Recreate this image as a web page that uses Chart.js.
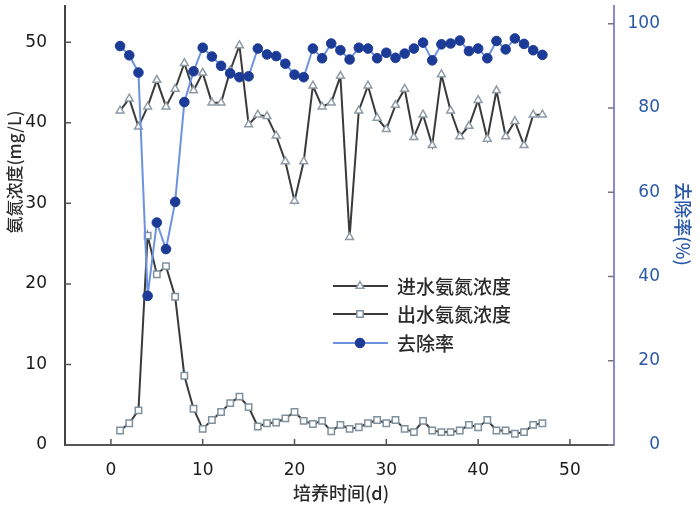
<!DOCTYPE html>
<html>
<head>
<meta charset="utf-8">
<script src="https://cdn.jsdelivr.net/npm/chart.js@4.4.1/dist/chart.umd.min.js"></script>
<style>
  html, body { margin: 0; padding: 0; background: #fff; }
</style>
</head>
<body>
<canvas id="ammonia" width="700" height="516"></canvas>
<script>
// culture time (d)
const days = [1, 2, 3, 4, 5, 6, 7, 8, 9, 10, 11, 12, 13, 14, 15, 16, 17, 18, 19, 20, 21, 22, 23, 24,
  25, 26, 27, 28, 29, 30, 31, 32, 33, 34, 35, 36, 37, 38, 39, 40, 41, 42, 43, 44, 45, 46, 47];

// influent ammonia (mg/L)
const influent = [41.5, 43, 39.5, 42, 45.3, 42, 44.2, 47.4, 44, 46.2, 42.5, 42.5, 46.5, 49.6, 39.8, 41,
  40.8, 38.4, 35.2, 30.3, 35.2, 44.6, 42, 42.5, 45.8, 25.8, 41.5, 44.6, 40.6, 39.2, 42.2, 44.2,
  38.2, 41, 37.2, 46, 41.5, 38.3, 39.6, 42.8, 38, 44, 38.3, 40.2, 37.2, 41, 41];

// effluent ammonia (mg/L)
const effluent = [1.8, 2.7, 4.3, 26, 21.2, 22.2, 18.4, 8.6, 4.5, 2, 3.1, 4.1, 5.2, 6, 4.7, 2.3,
  2.7, 2.8, 3.3, 4.1, 3, 2.6, 3, 1.7, 2.5, 2, 2.2, 2.7, 3.1, 2.7, 3.1, 2,
  1.6, 3, 1.8, 1.6, 1.6, 1.8, 2.5, 2.2, 3.1, 1.8, 1.8, 1.4, 1.6, 2.5, 2.7];

// removal rate (%)
const removal = [94.7, 92.5, 88.4, 35.4, 52.8, 46.5, 57.7, 81.4, 88.7, 94.3, 92.2, 90, 88.2, 87.3, 87.5, 94.1,
  92.7, 92.3, 90.5, 87.9, 87.3, 94.1, 91.8, 95.3, 93.7, 91.5, 94.3, 94.1, 91.8, 93.1, 91.9, 92.9,
  94.1, 95.5, 91.3, 95.1, 95.3, 96, 93.5, 94.1, 91.8, 95.9, 93.9, 96.5, 95.2, 93.7, 92.6];

const seriesNames = ['进水氨氮浓度', '出水氨氮浓度', '去除率'];
const xTicks = [0, 10, 20, 30, 40, 50];
const leftTicks = [0, 10, 20, 30, 40, 50];
const rightTicks = [0, 20, 40, 60, 80, 100];

const xTitle = '培养时间(d)';
const leftTitle = '氨氮浓度(mg/L)';
const rightTitle = '去除率(%)';

const toPoints = (ys) => days.map((d, i) => ({x: d, y: ys[i]}));
const fixTicks = (list) => (scale) => { scale.ticks = list.map(v => ({value: v})); };
const noPad = (scale) => {
  scale.paddingTop = 0; scale.paddingBottom = 0;
  scale.paddingLeft = 0; scale.paddingRight = 0;
};

const CJK = '"Noto Sans CJK SC", "DejaVu Sans", sans-serif';
const BLUE_TXT = '#2a58a8';

// small inward tick marks, axis titles and the in-plot legend
const decor = {
  id: 'decor',
  afterDraw(chart) {
    const ctx = chart.ctx;
    const a = chart.chartArea;
    const {x, yL, yR} = chart.scales;
    ctx.save();
    ctx.lineWidth = 1.5;
    ctx.strokeStyle = '#555';
    ctx.beginPath();
    x.ticks.forEach(t => {
      const px = x.getPixelForValue(t.value);
      ctx.moveTo(px, a.bottom); ctx.lineTo(px, a.bottom - 6);
    });
    yL.ticks.forEach(t => {
      const py = yL.getPixelForValue(t.value);
      ctx.moveTo(a.left, py); ctx.lineTo(a.left + 6, py);
    });
    ctx.stroke();
    ctx.strokeStyle = '#777';
    ctx.beginPath();
    yR.ticks.forEach(t => {
      const py = yR.getPixelForValue(t.value);
      ctx.moveTo(a.right, py); ctx.lineTo(a.right - 6, py);
    });
    ctx.stroke();

    // axis titles
    ctx.textAlign = 'center';
    ctx.textBaseline = 'middle';
    ctx.font = '500 18px ' + CJK;
    ctx.fillStyle = '#2a2a2a';
    ctx.fillText(xTitle, 341, 493);

    ctx.save();
    ctx.translate(15, 172);
    ctx.rotate(-Math.PI / 2);
    ctx.font = '500 17px ' + CJK;
    ctx.fillText(leftTitle, 0, 0);
    ctx.restore();

    ctx.save();
    ctx.translate(683, 224);
    ctx.rotate(Math.PI / 2);
    ctx.font = '500 18px ' + CJK;
    ctx.fillStyle = BLUE_TXT;
    ctx.fillText(rightTitle, 0, 0);
    ctx.restore();

    // legend
    const rows = [286, 314, 343];
    chart.data.datasets.forEach((ds, i) => {
      const y = rows[i];
      ctx.strokeStyle = ds.borderColor;
      ctx.lineWidth = 2;
      ctx.beginPath();
      ctx.moveTo(333, y); ctx.lineTo(388, y);
      ctx.stroke();
      ctx.fillStyle = ds.pointBackgroundColor;
      ctx.strokeStyle = ds.pointBorderColor;
      ctx.lineWidth = ds.pointBorderWidth;
      Chart.helpers.drawPoint(ctx, {
        pointStyle: ds.pointStyle, rotation: 0,
        radius: ds.pointRadius, borderWidth: ds.pointBorderWidth
      }, 360, y);
      ctx.fillStyle = '#2a2a2a';
      ctx.textAlign = 'left';
      ctx.font = '500 19px ' + CJK;
      ctx.fillText(ds.label, 397, y + 1);
    });
    ctx.restore();
  }
};

new Chart(document.getElementById('ammonia').getContext('2d'), {
  type: 'line',
  data: {
    datasets: [
      {
        label: seriesNames[0],
        data: toPoints(influent),
        yAxisID: 'yL',
        borderColor: '#3a3a3a',
        borderWidth: 2,
        pointStyle: 'triangle',
        pointRadius: 4.5,
        pointBackgroundColor: '#ffffff',
        pointBorderColor: '#8e9aa6',
        pointBorderWidth: 1.5,
        order: 2
      },
      {
        label: seriesNames[1],
        data: toPoints(effluent),
        yAxisID: 'yL',
        borderColor: '#3a3a3a',
        borderWidth: 2,
        pointStyle: 'rect',
        pointRadius: 4.5,
        pointBackgroundColor: '#ffffff',
        pointBorderColor: '#7f909e',
        pointBorderWidth: 1.5,
        order: 1
      },
      {
        label: seriesNames[2],
        data: toPoints(removal),
        yAxisID: 'yR',
        borderColor: '#6d93e0',
        borderWidth: 2,
        pointStyle: 'circle',
        pointRadius: 4.8,
        pointBackgroundColor: '#1c3b96',
        pointBorderColor: '#1c3b96',
        pointBorderWidth: 1,
        order: 0
      }
    ]
  },
  options: {
    responsive: false,
    animation: false,
    devicePixelRatio: 1,
    layout: { padding: { left: 0, right: 40, top: 0, bottom: 0 } },
    elements: { line: { tension: 0 } },
    plugins: {
      legend: { display: false },
      tooltip: { enabled: false }
    },
    scales: {
      x: {
        type: 'linear',
        min: -5,
        max: 54.8,
        afterBuildTicks: fixTicks(xTicks),
        afterFit: (s) => { noPad(s); s.height = 71; },
        grid: { display: false },
        border: { display: true, color: '#555', width: 2 },
        ticks: { color: '#1a1a1a', padding: 7, font: { family: 'DejaVu Sans', size: 17 } }
      },
      yL: {
        type: 'linear',
        position: 'left',
        min: 0,
        max: 54.5,
        afterBuildTicks: fixTicks(leftTicks),
        afterFit: (s) => { noPad(s); s.width = 65; },
        grid: { display: false },
        border: { display: true, color: '#444', width: 2 },
        ticks: { color: '#1a1a1a', padding: 10, font: { family: 'DejaVu Sans', size: 17 } }
      },
      yR: {
        type: 'linear',
        position: 'right',
        min: 0,
        max: 104.2,
        afterBuildTicks: fixTicks(rightTicks),
        afterFit: (s) => { noPad(s); s.width = 46; },
        grid: { display: false },
        border: { display: true, color: '#8a8ad2', width: 2 },
        ticks: { color: BLUE_TXT, padding: 12, crossAlign: 'far', font: { family: 'DejaVu Sans', size: 17 } }
      }
    }
  },
  plugins: [decor]
});
</script>
</body>
</html>
